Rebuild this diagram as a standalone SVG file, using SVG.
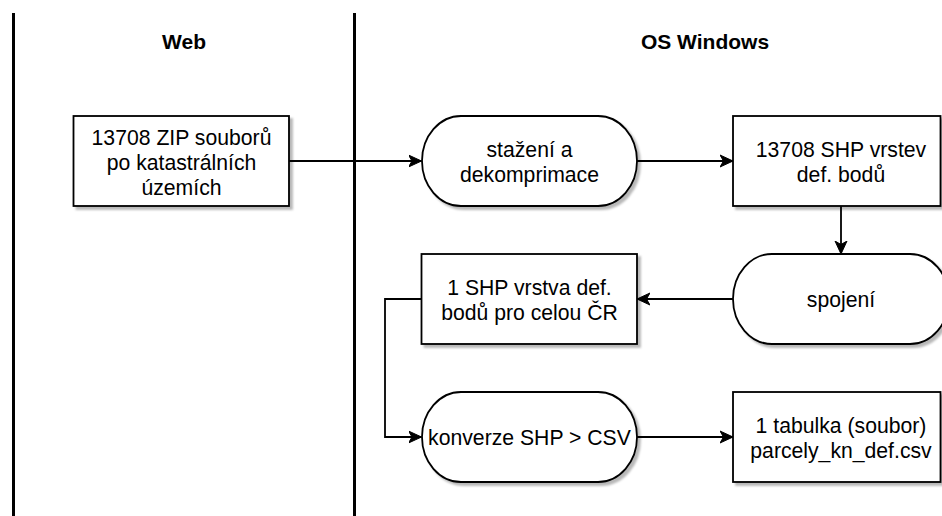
<svg xmlns="http://www.w3.org/2000/svg" width="942" height="516" viewBox="0 0 942 516">
  <style>
    .lane { stroke: #000; stroke-width: 3; fill: none; }
    .title { font-family: "Liberation Sans", Arial, Helvetica, sans-serif; font-size: 21px; font-weight: bold; fill: #000; text-anchor: middle; }
    .node { fill: #fff; stroke: #000; stroke-width: 1.8; filter: url(#shadow); }
    .label { font-family: "Liberation Sans", Arial, Helvetica, sans-serif; font-size: 21.2px; fill: #000; text-anchor: middle; }
    .edge { stroke: #000; stroke-width: 1.8; fill: none; marker-end: url(#arrow); }
  </style>
  <defs>
    <filter id="shadow" x="-10%" y="-10%" width="130%" height="140%">
      <feDropShadow dx="3" dy="3" stdDeviation="1" flood-color="#000" flood-opacity="0.28"/>
    </filter>
    <marker id="arrow" markerUnits="userSpaceOnUse" markerWidth="16" markerHeight="14" viewBox="0 -7 16 14" refX="13" refY="0" orient="auto">
      <path d="M0,-6 L13,0 L0,6 L3.5,0 Z" fill="#000" stroke="#000" stroke-width="1"/>
    </marker>
  </defs>

  <!-- swimlane separators and titles -->
  <g id="lanes">
    <line class="lane" x1="13.5" y1="13" x2="13.5" y2="516"/>
    <line class="lane" x1="354.5" y1="13" x2="354.5" y2="516"/>
    <text class="title" x="184" y="49">Web</text>
    <text class="title" x="705" y="49">OS Windows</text>
  </g>

  <!-- connectors -->
  <g id="connectors">
    <path class="edge" d="M289,161 L421.5,161"/>
    <path class="edge" d="M637,161 L733,161"/>
    <path class="edge" d="M841,206 L841,254"/>
    <path class="edge" d="M733,299 L637,299"/>
    <path class="edge" d="M421.5,299 L385,299 L385,437 L421.5,437"/>
    <path class="edge" d="M637,437 L733,437"/>
  </g>

  <g id="zip-files">
    <rect class="node" x="73.5" y="116" width="215.5" height="90"/>
    <text class="label" x="181.5" y="144.5">13708 ZIP souborů</text>
    <text class="label" x="181.5" y="169.5">po katastrálních</text>
    <text class="label" x="181.5" y="194.5">územích</text>
  </g>

  <g id="download">
    <path class="node" d="M461,116 L598,116 A39,45 0 0 1 598,206 L461,206 A39,45 0 0 1 461,116 Z"/>
    <text class="label" x="529.5" y="156.5">stažení a</text>
    <text class="label" x="529.5" y="181.5">dekomprimace</text>
  </g>

  <g id="shp-layers">
    <rect class="node" x="733" y="116" width="207.5" height="90"/>
    <text class="label" x="841" y="156.5">13708 SHP vrstev</text>
    <text class="label" x="841" y="181.5">def. bodů</text>
  </g>

  <g id="merge">
    <path class="node" d="M772,254 L910,254 A39,45 0 0 1 910,344 L772,344 A39,45 0 0 1 772,254 Z"/>
    <text class="label" x="841" y="306.5">spojení</text>
  </g>

  <g id="single-layer">
    <rect class="node" x="421.5" y="254" width="215.5" height="90"/>
    <text class="label" x="529.5" y="294.5">1 SHP vrstva def.</text>
    <text class="label" x="529.5" y="319.5">bodů pro celou ČR</text>
  </g>

  <g id="convert">
    <path class="node" d="M461,392 L598,392 A39,45 0 0 1 598,482 L461,482 A39,45 0 0 1 461,392 Z"/>
    <text class="label" x="529.5" y="444.5">konverze SHP &gt; CSV</text>
  </g>

  <g id="table">
    <rect class="node" x="733" y="392" width="207.5" height="90"/>
    <text class="label" x="841" y="432.5">1 tabulka (soubor)</text>
    <text class="label" x="841" y="457.5">parcely_kn_def.csv</text>
  </g>
</svg>
